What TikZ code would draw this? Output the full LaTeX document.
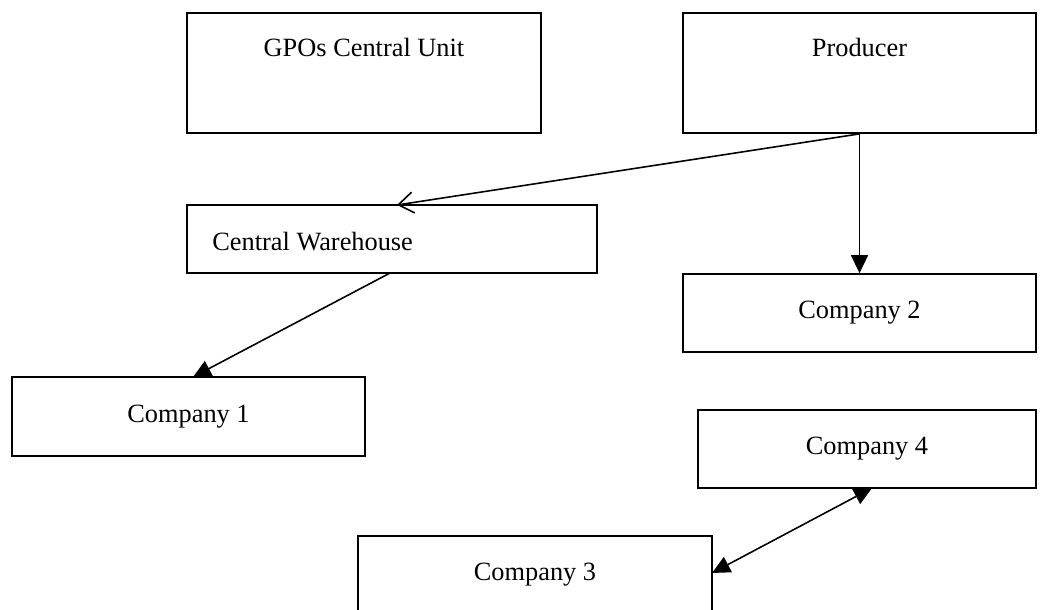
\documentclass[tikz,border=0pt]{standalone}
\usepackage{fontspec}
\setmainfont{Liberation Serif}
\usetikzlibrary{arrows.meta}

\tikzset{
  unitbox/.style={draw, rectangle, line width=1pt, inner sep=0pt},
  flow/.style={line width=0.9pt, -{Triangle[length=0.36cm, width=0.34cm]}},
  twoway/.style={line width=0.9pt, {Triangle[length=0.36cm, width=0.34cm]}-{Triangle[length=0.36cm, width=0.34cm]}},
  ship/.style={line width=0.9pt, -{Straight Barb[length=0.3cm, width=0.42cm]}}
}

\begin{document}
\begin{tikzpicture}[x=0.02cm, y=-0.02cm, font=\fontsize{15}{18}\selectfont]
  \useasboundingbox (0,0) rectangle (1043,609);

  % top row: central unit and producer
  \node[unitbox, minimum width=354*0.02cm, minimum height=120*0.02cm,
        label={[anchor=center, yshift=-0.7cm]north:GPOs Central Unit}] (gpo) at (364,73) {};
  \node[unitbox, minimum width=353*0.02cm, minimum height=120*0.02cm,
        label={[anchor=center, yshift=-0.7cm]north:Producer}] (prod) at (859.5,73) {};

  % warehouse and companies
  \node[unitbox, minimum width=410*0.02cm, minimum height=68*0.02cm,
        label={[anchor=west, xshift=0.4cm, yshift=-0.06cm]west:Central Warehouse}] (ware) at (392,239) {};
  \node[unitbox, minimum width=353*0.02cm, minimum height=78*0.02cm] (comp2) at (859.5,313) {Company 2};
  \node[unitbox, minimum width=353*0.02cm, minimum height=79*0.02cm] (comp1) at (188.5,416.5) {Company 1};
  \node[unitbox, minimum width=338*0.02cm, minimum height=78*0.02cm] (comp4) at (867,449) {Company 4};
  \node[unitbox, minimum width=354*0.02cm, minimum height=78*0.02cm] (comp3) at (535,575) {Company 3};

  % attachment points on box edges
  \coordinate (wtop) at (397,205);
  \coordinate (wbot) at (390,273);
  \coordinate (c1top) at (193,377);
  \coordinate (c4bot) at (872,488);
  \coordinate (c3side) at (712,573);

  % shipments
  \draw[ship] (prod.south) -- (wtop);
  \draw[flow] (prod.south) -- (comp2.north);
  \draw[flow] (wbot) -- (c1top);
  \draw[twoway] (c4bot) -- (c3side);
\end{tikzpicture}
\end{document}
